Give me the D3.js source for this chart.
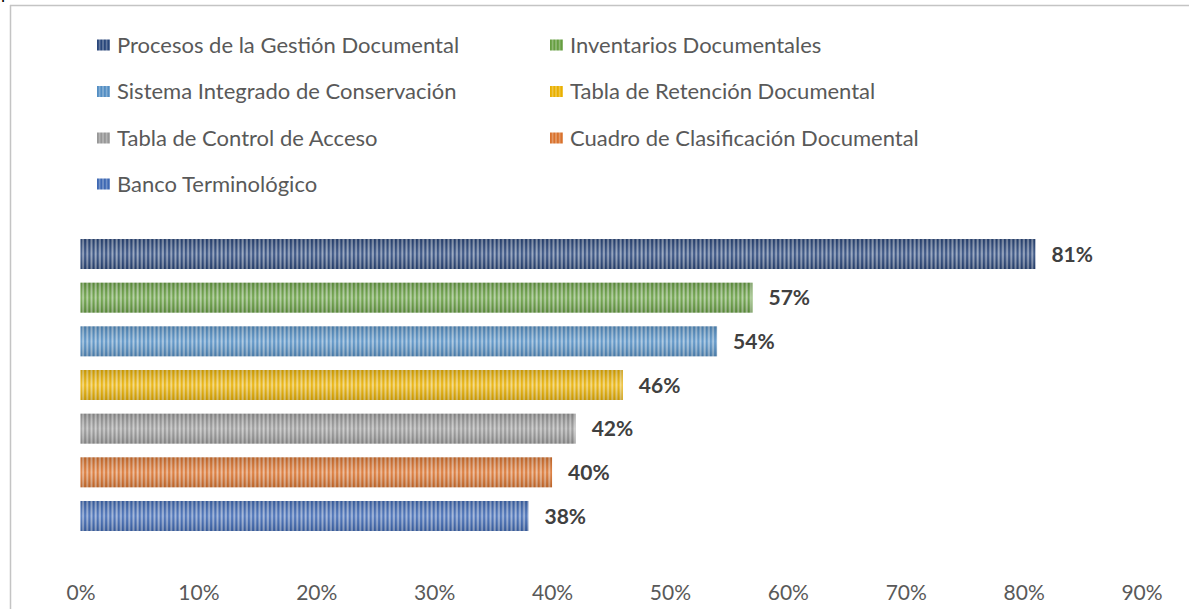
<!DOCTYPE html>
<html><head><meta charset="utf-8">
<script src="https://cdn.jsdelivr.net/npm/d3@7"></script>
<style>html,body{margin:0;padding:0;background:#fff;overflow:hidden}</style>
</head><body>
<svg id="c" width="1189" height="609"></svg>
<script>
const categories = ["Procesos de la Gestión Documental","Inventarios Documentales","Sistema Integrado de Conservación","Tabla de Retención Documental","Tabla de Control de Acceso","Cuadro de Clasificación Documental","Banco Terminológico"];
const values = [0.81,0.57,0.54,0.46,0.42,0.40,0.38];
const colors = ["#2D4C85","#70AD47","#5B9BD5","#FFC000","#A5A5A5","#ED7D31","#4472C4"];
const tickValues = [0,0.1,0.2,0.3,0.4,0.5,0.6,0.7,0.8,0.9];

const svg = d3.select("#c");
const font = "Lato, 'Open Sans', sans-serif";
const defs = svg.append("defs");

const g = defs.append("linearGradient").attr("id","shade").attr("x1",0).attr("y1",0).attr("x2",0).attr("y2",1);
g.append("stop").attr("offset","0").attr("stop-color","#000").attr("stop-opacity",0.15);
g.append("stop").attr("offset","0.5").attr("stop-color","#fff").attr("stop-opacity",0.12);
g.append("stop").attr("offset","1").attr("stop-color","#000").attr("stop-opacity",0.15);

function makePattern(id, c, x0, w, lightOp) {
  const p = defs.append("pattern").attr("id",id).attr("patternUnits","userSpaceOnUse")
    .attr("x",x0).attr("y",0).attr("width",w).attr("height",10);
  p.append("rect").attr("width",w).attr("height",10).attr("fill",d3.color(c).darker(0.25));
  p.append("rect").attr("x",w*0.5).attr("width",w*0.45).attr("height",10).attr("fill","#fff").attr("opacity",lightOp);
}
colors.forEach((c,i)=>{
  makePattern("pat"+i, c, 80, 4.2, 0.5);
  makePattern("lpat"+i, c, 0, 3.5, 0.3);
});

// frame
svg.append("line").attr("x1",10).attr("x2",1189).attr("y1",5.5).attr("y2",5.5).attr("stroke","#c4c4c4").attr("stroke-width",1.5);
svg.append("line").attr("x1",10.5).attr("x2",10.5).attr("y1",5).attr("y2",609).attr("stroke","#c4c4c4").attr("stroke-width",1.5);
svg.append("text").attr("x",1).attr("y",-1).attr("font-family",font).attr("font-size",18).attr("fill","#000").text("p");

const x = d3.scaleLinear().domain([0,0.9]).range([80.5,1141.5]);
const y = d3.scaleBand().domain(categories).range([232.2,537.8]).paddingInner(0.313).paddingOuter(0.156);

const bars = svg.append("g");
categories.forEach((cat,i)=>{
  bars.append("rect").attr("x",x(0)).attr("y",y(cat)).attr("width",x(values[i])-x(0)).attr("height",y.bandwidth())
    .attr("fill","url(#pat"+i+")");
  bars.append("rect").attr("x",x(0)).attr("y",y(cat)).attr("width",x(values[i])-x(0)).attr("height",y.bandwidth())
    .attr("fill","url(#shade)");
  bars.append("text").attr("x",x(values[i])+16).attr("y",y(cat)+y.bandwidth()/2).attr("dy","0.36em")
    .attr("font-family",font).attr("font-weight","bold").attr("font-size",21).attr("fill","#404040")
    .text(d3.format(".0%")(values[i]));
});

const ax = svg.append("g").attr("transform","translate(0,580)")
  .call(d3.axisBottom(x).tickValues(tickValues).tickFormat(d3.format(".0%")).tickSize(0).tickPadding(0));
ax.select(".domain").remove();
ax.selectAll("text").attr("font-family",font).attr("font-size",21).attr("fill","#595959").attr("dy","0.71em").attr("y",5);

const legX = [97,550], legY = [45,91.5,138,184];
categories.forEach((cat,i)=>{
  const lx = legX[i%2], ly = legY[Math.floor(i/2)];
  const lg = svg.append("g").attr("transform",`translate(${lx},${ly})`);
  lg.append("rect").attr("x",0).attr("y",-5.5).attr("width",13).attr("height",11).attr("fill","url(#lpat"+i+")");
  lg.append("text").attr("x",20).attr("y",0).attr("dy","0.36em").attr("font-family",font).attr("font-size",22)
    .attr("fill","#595959").text(cat);
});
</script>
</body></html>
